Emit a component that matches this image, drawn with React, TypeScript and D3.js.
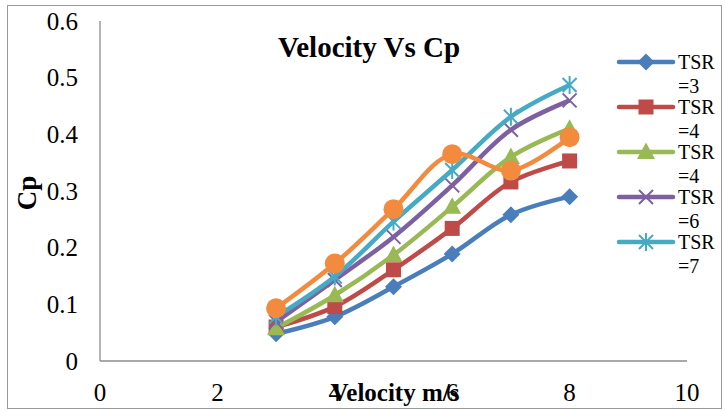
import React from "react";
import * as d3 from "d3";

const velocities = [3, 4, 5, 6, 7, 8];
const tsr3 = [0.048, 0.078, 0.131, 0.189, 0.258, 0.29];
const tsr4a = [0.06, 0.096, 0.161, 0.234, 0.316, 0.353];
const tsr4b = [0.058, 0.116, 0.187, 0.272, 0.36, 0.41];
const tsr6 = [0.069, 0.143, 0.219, 0.31, 0.408, 0.46];
const tsr7 = [0.078, 0.149, 0.246, 0.337, 0.431, 0.487];
const extra = [0.093, 0.172, 0.268, 0.365, 0.336, 0.395];
const xTicks = [0, 2, 4, 6, 8, 10];
const yTicks = [0, 0.1, 0.2, 0.3, 0.4, 0.5, 0.6];
const legendLabels = ["TSR =3", "TSR =4", "TSR =4", "TSR =6", "TSR =7"];

const series = [
  { values: tsr3, color: "#4a7ebb", marker: "diamond" },
  { values: tsr4a, color: "#be4b48", marker: "square" },
  { values: tsr4b, color: "#98b954", marker: "triangle" },
  { values: tsr6, color: "#7d60a0", marker: "x" },
  { values: tsr7, color: "#46aac5", marker: "star" },
  { values: extra, color: "#f38b3e", marker: "circle" },
];

const FONT = "Liberation Serif, Times New Roman, DejaVu Serif, serif";

function Marker({ type, x, y, color }: { type: string; x: number; y: number; color: string }) {
  switch (type) {
    case "diamond":
      return <path d={`M${x},${y - 8.5}L${x + 8.5},${y}L${x},${y + 8.5}L${x - 8.5},${y}Z`} fill={color} />;
    case "square":
      return <rect x={x - 7.5} y={y - 7.5} width={15} height={15} fill={color} />;
    case "triangle":
      return <path d={`M${x},${y - 9.5}L${x + 9},${y + 7}L${x - 9},${y + 7}Z`} fill={color} />;
    case "x":
      return (
        <path d={`M${x - 7},${y - 7}L${x + 7},${y + 7}M${x - 7},${y + 7}L${x + 7},${y - 7}`} stroke={color} strokeWidth={2} />
      );
    case "star":
      return (
        <path
          d={`M${x - 7},${y - 7}L${x + 7},${y + 7}M${x - 7},${y + 7}L${x + 7},${y - 7}M${x},${y - 9}L${x},${y + 9}`}
          stroke={color}
          strokeWidth={2}
        />
      );
    default:
      return <circle cx={x} cy={y} r={10} fill={color} />;
  }
}

export default function App() {
  const W = 725;
  const H = 410;
  const x = d3.scaleLinear().domain([0, 10]).range([100, 687]);
  const y = d3.scaleLinear().domain([0, 0.6]).range([361, 21]);
  const line = d3
    .line<number>()
    .x((_, i) => x(velocities[i]))
    .y((d) => y(d))
    .curve(d3.curveCatmullRom.alpha(0.5));

  const txt = { fontFamily: FONT };

  return (
    <div style={{ position: "absolute", left: 0, top: 0 }}>
      <svg width={W} height={H} style={{ display: "block", background: "#fff" }}>
        <rect x={7.5} y={5.5} width={714} height={403} fill="#fff" stroke="#999" strokeWidth={1} />
        <line x1={x(0)} x2={x(0)} y1={y(0.6)} y2={y(0)} stroke="#8c8c8c" strokeWidth={1.3} />
        <line x1={x(0)} x2={x(10)} y1={y(0)} y2={y(0)} stroke="#8c8c8c" strokeWidth={1.3} />
        {yTicks.map((t) => (
          <text key={t} x={78} y={y(t)} dy="0.35em" textAnchor="end" style={txt} fontSize={25}>
            {t === 0 ? "0" : t.toFixed(1)}
          </text>
        ))}
        {xTicks.map((t) => (
          <text key={t} x={x(t)} y={392} dy="0.35em" textAnchor="middle" style={txt} fontSize={25}>
            {t}
          </text>
        ))}
        <text x={369} y={47} dy="0.35em" textAnchor="middle" style={txt} fontSize={29} fontWeight="bold">
          Velocity Vs Cp
        </text>
        <text
          transform={`translate(27,193) rotate(-90)`}
          dy="0.35em"
          textAnchor="middle"
          style={txt}
          fontSize={27}
          fontWeight="bold"
        >
          Cp
        </text>
        <text x={395} y={392} dy="0.35em" textAnchor="middle" style={txt} fontSize={25} fontWeight="bold">
          Velocity m/s
        </text>
        {series.map((s, si) => (
          <g key={si}>
            <path d={line(s.values) || ""} fill="none" stroke={s.color} strokeWidth={4.5} strokeLinejoin="round" />
            {s.values.map((v, i) => (
              <Marker key={i} type={s.marker} x={x(velocities[i])} y={y(v)} color={s.color} />
            ))}
          </g>
        ))}
        {legendLabels.map((lab, i) => {
          const ly = 62 + i * 45;
          const s = series[i];
          const [a, b] = lab.split(" ");
          return (
            <g key={i}>
              <line x1={619} x2={673} y1={ly} y2={ly} stroke={s.color} strokeWidth={4.5} strokeLinecap="round" />
              <Marker type={s.marker} x={646} y={ly} color={s.color} />
              <text x={678} y={ly} dy="0.35em" style={txt} fontSize={20}>
                {a}
              </text>
              <text x={678} y={ly + 24} dy="0.35em" style={txt} fontSize={20}>
                {b}
              </text>
            </g>
          );
        })}
      </svg>
    </div>
  );
}
